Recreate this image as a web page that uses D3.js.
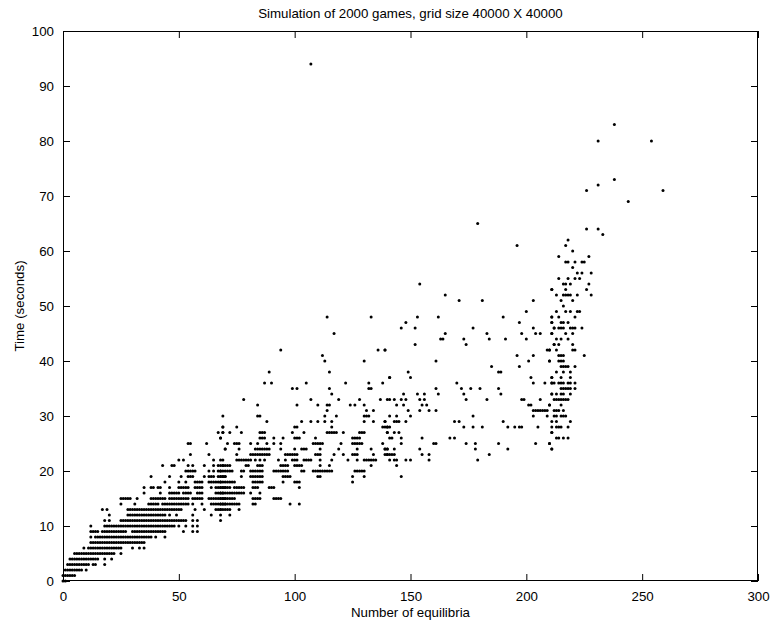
<!DOCTYPE html>
<html><head><meta charset="utf-8">
<script src="https://cdn.jsdelivr.net/npm/d3@7"></script>
<style>
body{margin:0;background:#fff}
text{font-family:"Liberation Sans",Arial,Helvetica,sans-serif;fill:#000}
</style>
</head><body>
<svg id="chart" width="772" height="621"></svg>
<script>
// Each row: [seconds, [number of equilibria, ...]]
const denseBand = [
  [0,[0,1]],
  [1,[0,1,2,3,4,5]],
  [2,[1,2,3,4,5,6,7,8,10]],
  [3,[2,3,4,5,6,7,8,9,10,11,13,14,18]],
  [4,[3,4,5,6,7,8,9,10,11,12,13,14,15,18,21]],
  [5,[5,6,7,8,9,10,11,12,13,14,15,16,17,18,19,20,21,22,25]],
  [6,[9,11,12,13,14,15,16,17,18,19,20,21,22,23,24,25,30,33,35]],
  [7,[12,13,14,15,16,17,18,19,20,21,22,23,24,25,26,27,28,29,30,31,32,33,34,35]],
  [8,[12,14,15,16,17,18,19,20,21,22,23,24,25,26,27,28,29,30,31,32,33,34,35,36,37,38,40,44]],
  [9,[12,13,14,15,17,18,19,20,21,22,23,24,25,26,27,30,31,32,33,34,35,36,37,38,39,40,41,42,43,44,52,56,58]],
  [10,[12,18,19,20,21,22,23,24,25,26,27,28,29,30,31,32,33,34,35,36,37,38,39,40,41,42,43,44,45,46,47,48,50,53,56,58]],
  [11,[18,20,25,26,27,28,29,30,31,32,33,34,35,36,37,38,39,40,41,42,43,44,45,46,47,48,49,50,51,52,53,56,58,68]],
  [12,[20,28,29,30,31,32,33,34,35,36,37,38,39,40,41,42,43,44,46,49,56,64,68]],
  [13,[17,19,28,29,30,31,32,33,34,35,36,37,38,39,40,41,42,43,44,45,46,47,48,49,50,51,57,61,66,67,68]],
  [14,[25,31,37,38,39,40,41,43,44,45,46,47,48,49,50,51,52,53,54,56,60,64,65,66,67,68,69,70]],
  [15,[25,26,27,28,29,32,38,39,40,41,42,43,44,46,47,48,49,50,51,52,53,54,56,57,58,59,60,63,64,65,66,67,68,69,70]],
  [16,[35,42,46,47,48,49,50,52,53,54,55,58,59,60,66,67,68,69,70]],
  [17,[35,38,39,41,42,46,50,51,52,53,54,57,58,59,60,64,66,67,68,69,70]],
  [18,[44,50,53,57,58,59,60,63,64,65,66,67,68]],
  [19,[38,46,51,54,55,56,61,63,64,65,67,68,69,70]],
  [20,[53,54,55,56,57,63,65,67,68]],
  [21,[43,47,48,54,56,61,65,67,69]],
  [22,[50,52,65,68]],
  [23,[55,63]],
  [24,[70]],
  [25,[54,55,62]],
  [26,[68]],
  [27,[67,69]],
  [28,[69]],
  [30,[69]]
];

const middleBand = [
  [12,[72]],
  [13,[68,69,70,71,72,76]],
  [14,[68,69,70,71,72,73,74,75,76,82,83,98,102]],
  [15,[68,69,70,71,72,73,74,82,83,84,85,91,92,93,94]],
  [16,[68,69,71,72,73,74,75,76,77,78,81,85]],
  [17,[68,69,70,71,72,74,75,76,77,78,82,83,84,89,90,91,102]],
  [18,[68,69,70,71,72,73,74,82,83,84,85,86,95,100,101,102,125]],
  [19,[68,69,70,77,81,82,83,84,85,86,95,96,97,98,110,111,125,130]],
  [20,[68,69,70,71,72,73,77,78,81,82,83,84,85,86,91,92,93,94,95,96,97,103,104,108,109,110,111,112,113,114,115,116,126,127,128,129,130]],
  [21,[68,69,70,71,72,79,80,84,85,86,94,95,96,97,100,101,102,103,111,115,133]],
  [22,[69,75,76,77,78,79,80,81,83,85,87,93,96,99,100,101,104,105,106,107,111,116,123,127,130,131,132,133,134,135]],
  [23,[75,81,82,83,84,85,86,87,88,89,96,97,98,99,100,101,109,110,111,117,121,125,126,127,134,140]],
  [24,[70,76,83,84,85,86,87,88,89,94,100,103,104,105,111,119,127,133,139,140]],
  [25,[71,74,75,76,81,84,88,91,94,108,109,110,111,112,120,125,126,127,128,129,138]],
  [26,[68,85,86,87,91,95,100,101,102,109,125,126,127,128]],
  [27,[69,72,77,85,86,87,99,104,114,115,116,117,118,121,128,129,130,140]],
  [28,[69,75,100,101,116,138,139,140]],
  [29,[88,103,107,110,113,116,130,134,139]],
  [30,[84,85,113,118,130,131,132]],
  [31,[114,131,134]],
  [32,[84,101,110,114,115,124,126,130]],
  [33,[78,107,119,128,137,140]],
  [34,[116]]
];

const middleUpper = [
  [35,[99,101,115,132,133]],
  [36,[87,90,105,122,132,138]],
  [37,[141]],
  [38,[89,115]],
  [40,[113,130]],
  [41,[112]],
  [42,[94,136,139]],
  [45,[117]],
  [48,[114,133]]
];

const rightBand = [
  [19,[146]],
  [21,[144]],
  [22,[141,143,144,148,150,158,179]],
  [23,[139,140,141,142,143,155,158,184]],
  [24,[139,140,143,154,178,192,211]],
  [25,[146,160,161,174,178,188,204,210]],
  [26,[141,142,146,155,167,169]],
  [27,[140,143,145,211]],
  [28,[140,141,173,177,181,192,195,197,198,205,211]],
  [29,[139,143,144,145,148,169,171,190]],
  [30,[141,144,150,177,203,209]],
  [31,[149,154,158,161,203,204,205,206,207,208,209]],
  [32,[144,147,155,157,201,202,210]],
  [33,[141,143,146,148,154,156,174,183,198,199,206]],
  [34,[147,153,156,162,173,189,211]]
];

const rightUpper = [
  [35,[161,172,176,180,188]],
  [36,[170,203,208,211]],
  [37,[141,150,202,211]],
  [38,[149,188,189]],
  [39,[185,197]],
  [40,[161,201,210]],
  [41,[196,203]],
  [42,[139,209,210]],
  [43,[152,174,212]],
  [44,[163,164,173,184,191,200]],
  [45,[165,183,198,204,206,211]],
  [46,[146,152,177,203,212]],
  [47,[148,197,211]],
  [48,[153,162,190,211]],
  [49,[200]],
  [51,[171,181,203]],
  [52,[165]],
  [53,[211]],
  [54,[154]]
];

const spikeLower = [
  [24,[211]],
  [25,[210]],
  [26,[213,214,216,218]],
  [27,[211]],
  [28,[213,214,215,218]],
  [29,[211,213,219]],
  [30,[212,213,215,216,217]],
  [31,[212,213,214,216]],
  [32,[210,215]],
  [33,[212,213,214,215,216,217,218]],
  [34,[211,213,215,216,219]],
  [35,[215,216,217,218,219,221]],
  [36,[211,212,214,215,216,218,219,221]],
  [37,[211,215,219]],
  [38,[213,216,219]],
  [39,[215,216,217,218,221]],
  [40,[210,214,215,216]],
  [41,[214,215,216,225]],
  [42,[210,213,220,221]],
  [43,[212,214,220]],
  [44,[213,215,218]],
  [45,[211,217,220]]
];

const spikeUpper = [
  [46,[212,214,215,216,219,220,221,224]],
  [47,[211,215,216,218]],
  [48,[211,214,221]],
  [49,[213,217,219,222,223]],
  [50,[216]],
  [51,[215,220]],
  [52,[213,216,217,218,219,222,228]],
  [53,[211,217,226]],
  [54,[216,217,219,227]],
  [55,[214,218,221,223]],
  [56,[222,224,228]],
  [57,[220]],
  [58,[217,218,221,224,225]],
  [59,[214,227]],
  [60,[220]],
  [61,[217]],
  [62,[218]],
  [63,[233]],
  [64,[226,231]],
  [69,[244]],
  [71,[226,259]],
  [72,[231]],
  [73,[238]],
  [80,[231,254]],
  [83,[238]]
];

const outliers = [
  [61,[196]],
  [65,[179]],
  [94,[107]]
];

const xTicks = [0, 50, 100, 150, 200, 250, 300];
const yTicks = [0, 10, 20, 30, 40, 50, 60, 70, 80, 90, 100];
const titleText = "Simulation of 2000 games, grid size 40000 X 40000";
const xLabelText = "Number of equilibria";
const yLabelText = "Time (seconds)";

const W = 772, H = 621;
const L = 63, R = 758, T = 31, B = 581;
const svg = d3.select("#chart");
const x = d3.scaleLinear().domain([0, 300]).range([L, R]);
const y = d3.scaleLinear().domain([0, 100]).range([B, T]);

const rows = [].concat(denseBand, middleBand, middleUpper, rightBand, rightUpper, spikeLower, spikeUpper, outliers);
const points = rows.flatMap(([t, xs]) => xs.map(e => ({eq: e, sec: t})));

const fs = "13.3px";
const tick = 7;

// axes
const gB = svg.append("g").attr("transform", `translate(0,${B})`)
  .call(d3.axisBottom(x).tickValues(xTicks).tickSizeInner(-tick).tickSizeOuter(0).tickPadding(11).tickFormat(d3.format("d")));
const gT = svg.append("g").attr("transform", `translate(0,${T})`)
  .call(d3.axisTop(x).tickValues(xTicks).tickSizeInner(-tick).tickSizeOuter(0).tickFormat(""));
const gL = svg.append("g").attr("transform", `translate(${L},0)`)
  .call(d3.axisLeft(y).tickValues(yTicks).tickSizeInner(-tick).tickSizeOuter(0).tickPadding(9).tickFormat(d3.format("d")));
const gR = svg.append("g").attr("transform", `translate(${R},0)`)
  .call(d3.axisRight(y).tickValues(yTicks).tickSizeInner(-tick).tickSizeOuter(0).tickFormat(""));
[gB, gT, gL, gR].forEach(g => {
  g.select(".domain").remove();
  g.selectAll(".tick line").attr("stroke", "#000").attr("stroke-width", 1);
  g.selectAll("text").style("font-size", fs).attr("fill", "#000")
    .style("font-family", '"Liberation Sans",Arial,Helvetica,sans-serif');
});

svg.append("rect").attr("x", L + 0.5).attr("y", T + 0.5)
  .attr("width", R - L - 1).attr("height", B - T - 1)
  .attr("fill", "none").attr("stroke", "#000").attr("stroke-width", 1);

// points
svg.append("g").selectAll("circle").data(points).join("circle")
  .attr("cx", d => x(d.eq)).attr("cy", d => y(d.sec))
  .attr("r", 1.5).attr("fill", "#000");

// labels
svg.append("text").attr("x", (L + R) / 2).attr("y", 18)
  .attr("text-anchor", "middle").style("font-size", fs).text(titleText);
svg.append("text").attr("x", (L + R) / 2).attr("y", 617)
  .attr("text-anchor", "middle").style("font-size", fs).text(xLabelText);
svg.append("text").attr("transform", `translate(24,${(T + B) / 2}) rotate(-90)`)
  .attr("text-anchor", "middle").style("font-size", fs).text(yLabelText);
</script>
</body></html>
